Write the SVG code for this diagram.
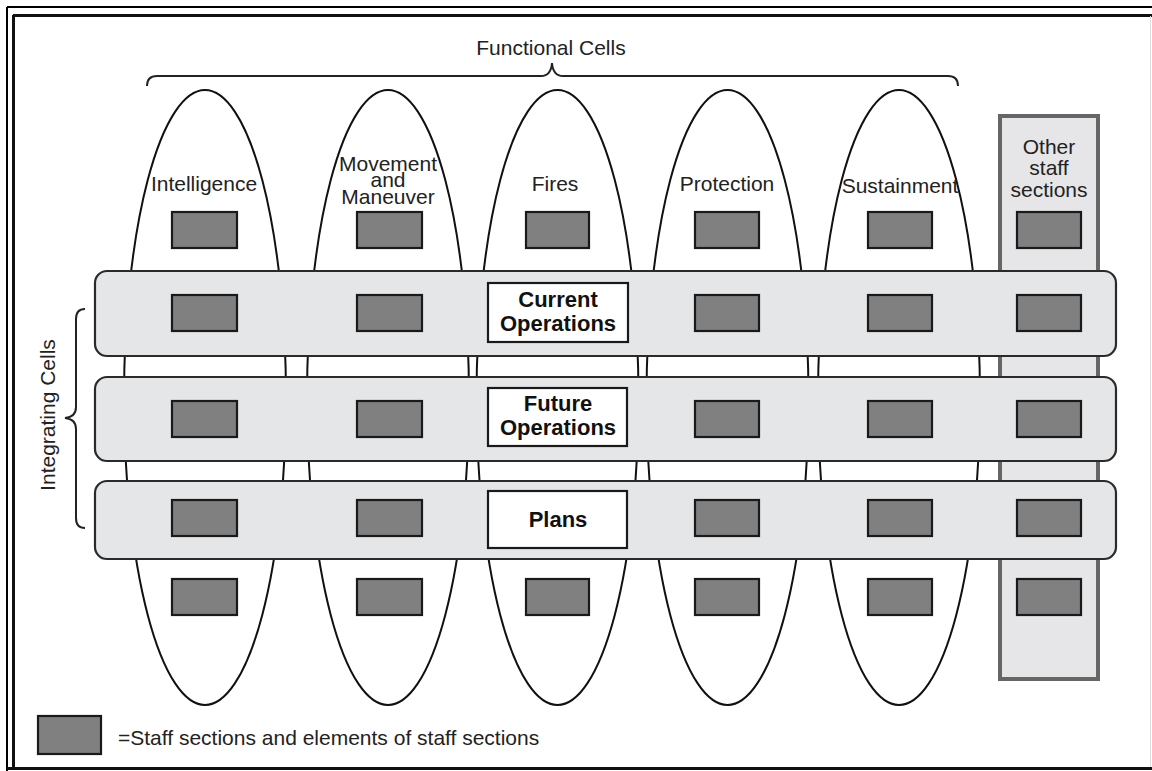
<svg xmlns="http://www.w3.org/2000/svg" width="1152" height="771" viewBox="0 0 1152 771">
<style>
.t{font-family:"Liberation Sans",Arial,sans-serif;font-size:21px;fill:#222;text-anchor:middle}
.b{font-family:"Liberation Sans",Arial,sans-serif;font-size:22px;font-weight:bold;fill:#111;text-anchor:middle}
.ell{fill:#fff;stroke:#111;stroke-width:2}
.band{fill:#e5e6e8;stroke:#2a2a2a;stroke-width:2.2}
.sq{fill:#808080;stroke:#1a1a1a;stroke-width:2.2}
.wb{fill:#fff;stroke:#1a1a1a;stroke-width:2.2}
.br{fill:none;stroke:#222;stroke-width:2}
</style>
<rect x="0" y="0" width="1152" height="771" fill="#fff"/>
<!-- frame -->
<g id="frame" fill="none">
<line x1="7" y1="7" x2="1152" y2="7" stroke="#000" stroke-width="2"/>
<line x1="7" y1="7" x2="7" y2="771" stroke="#000" stroke-width="2"/>
<line x1="13" y1="15.5" x2="1152" y2="15.5" stroke="#111" stroke-width="3"/>
<line x1="13.5" y1="15" x2="13.5" y2="768" stroke="#111" stroke-width="3"/>
<line x1="7" y1="768.5" x2="1152" y2="768.5" stroke="#111" stroke-width="3"/>
<line x1="1150.5" y1="16" x2="1150.5" y2="767" stroke="#ddd" stroke-width="1"/>
</g>
<!-- functional cell ellipses -->
<g id="cell-intelligence"><ellipse class="ell" cx="205" cy="397.5" rx="81" ry="307.5"/></g>
<g id="cell-movement"><ellipse class="ell" cx="388" cy="397.5" rx="81" ry="307.5"/></g>
<g id="cell-fires"><ellipse class="ell" cx="557.5" cy="397.5" rx="81" ry="307.5"/></g>
<g id="cell-protection"><ellipse class="ell" cx="727.5" cy="397.5" rx="81" ry="307.5"/></g>
<g id="cell-sustainment"><ellipse class="ell" cx="899" cy="397.5" rx="81" ry="307.5"/></g>
<g id="other-staff"><rect x="1000" y="116" width="98" height="563" fill="#e6e6e8" stroke="#666" stroke-width="4"/></g>
<!-- integrating bands -->
<g id="band-current"><rect class="band" x="95" y="271" width="1021" height="85" rx="12"/></g>
<g id="band-future"><rect class="band" x="95" y="377" width="1021" height="84" rx="12"/></g>
<g id="band-plans"><rect class="band" x="95" y="481" width="1021" height="78" rx="12"/></g>
<!-- staff section squares -->
<g id="squares">
<rect class="sq" x="172" y="212" width="65" height="36"/>
<rect class="sq" x="357" y="212" width="65" height="36"/>
<rect class="sq" x="526" y="212" width="63" height="36"/>
<rect class="sq" x="695" y="212" width="64" height="36"/>
<rect class="sq" x="868" y="212" width="64" height="36"/>
<rect class="sq" x="1017" y="212" width="64" height="36"/>

<rect class="sq" x="172" y="295" width="65" height="36"/>
<rect class="sq" x="357" y="295" width="65" height="36"/>
<rect class="sq" x="695" y="295" width="64" height="36"/>
<rect class="sq" x="868" y="295" width="64" height="36"/>
<rect class="sq" x="1017" y="295" width="64" height="36"/>

<rect class="sq" x="172" y="401" width="65" height="36"/>
<rect class="sq" x="357" y="401" width="65" height="36"/>
<rect class="sq" x="695" y="401" width="64" height="36"/>
<rect class="sq" x="868" y="401" width="64" height="36"/>
<rect class="sq" x="1017" y="401" width="64" height="36"/>

<rect class="sq" x="172" y="500" width="65" height="36"/>
<rect class="sq" x="357" y="500" width="65" height="36"/>
<rect class="sq" x="695" y="500" width="64" height="36"/>
<rect class="sq" x="868" y="500" width="64" height="36"/>
<rect class="sq" x="1017" y="500" width="64" height="36"/>

<rect class="sq" x="172" y="579" width="65" height="36"/>
<rect class="sq" x="357" y="579" width="65" height="36"/>
<rect class="sq" x="526" y="579" width="63" height="36"/>
<rect class="sq" x="695" y="579" width="64" height="36"/>
<rect class="sq" x="868" y="579" width="64" height="36"/>
<rect class="sq" x="1017" y="579" width="64" height="36"/>
</g>
<!-- integrating cell labels -->
<g id="label-current"><rect class="wb" x="488" y="283" width="140" height="59"/><text class="b" x="558" y="307">Current</text><text class="b" x="558" y="331">Operations</text></g>
<g id="label-future"><rect class="wb" x="488" y="388" width="139" height="58"/><text class="b" x="558" y="411">Future</text><text class="b" x="558" y="435">Operations</text></g>
<g id="label-plans"><rect class="wb" x="488" y="491" width="139" height="57"/><text class="b" x="558" y="527">Plans</text></g>
<!-- functional cell labels -->
<g id="labels">
<text class="t" x="204" y="191">Intelligence</text>
<text class="t" x="388" y="171">Movement</text>
<text class="t" x="388" y="187">and</text>
<text class="t" x="388" y="204">Maneuver</text>
<text class="t" x="555" y="191">Fires</text>
<text class="t" x="727" y="191">Protection</text>
<text class="t" x="900" y="193">Sustainment</text>
<text class="t" x="1049" y="154" font-size="20.5">Other</text>
<text class="t" x="1049" y="175" font-size="20.5">staff</text>
<text class="t" x="1049" y="197" font-size="20.5">sections</text>
</g>
<!-- braces -->
<g id="brace-functional">
<path class="br" d="M147,86 Q147,76 157,76 L541,76 Q551,76 552,63 Q553,76 563,76 L948,76 Q958,76 958,86"/>
<text class="t" x="551" y="55">Functional Cells</text>
</g>
<g id="brace-integrating">
<path class="br" d="M85,309 Q76,309 76,319 L76,407 Q76,417 65,418 Q76,419 76,429 L76,518 Q76,528 85,528"/>
<text class="t" transform="translate(55,415) rotate(-90)" x="0" y="0">Integrating Cells</text>
</g>
<!-- legend -->
<g id="legend">
<rect class="sq" x="38" y="716" width="63" height="38"/>
<text class="t" x="118" y="745" style="text-anchor:start">=Staff sections and elements of staff sections</text>
</g>
</svg>
